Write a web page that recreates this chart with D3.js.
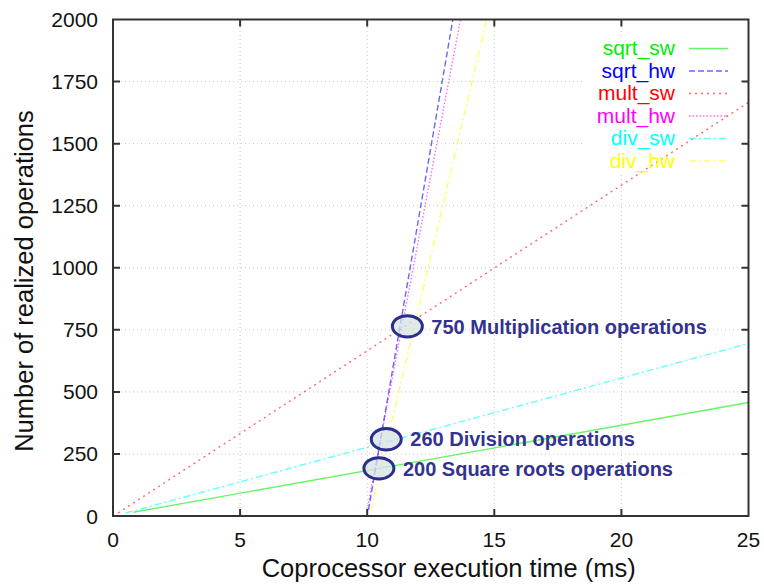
<!DOCTYPE html>
<html>
<head>
<meta charset="utf-8">
<script src="https://cdn.jsdelivr.net/npm/d3@7"></script>
<style>
  body { margin: 0; background: #fff; }
  text { font-family: "Liberation Sans", Arial, sans-serif; }
</style>
</head>
<body>
<div class="container"></div>
<script>
// series (time in ms, realized operations)
const seriesNames = ["sqrt_sw", "sqrt_hw", "mult_sw", "mult_hw", "div_sw", "div_hw"];
const seriesColors = ["#00ee00", "#0000ff", "#ff0000", "#ff00ff", "#00ffff", "#ffff00"];

const sqrtSwTime = [0.8, 25];
const sqrtSwOps = [15, 457];
const sqrtHwTime = [10.05, 13.37];
const sqrtHwOps = [25, 2000];
const multSwTime = [0.2, 25];
const multSwOps = [12, 1666];
const multHwTime = [10.0, 13.67];
const multHwOps = [25, 2000];
const divSwTime = [0.5, 25];
const divSwOps = [12, 695];
const divHwTime = [10.15, 14.7];
const divHwOps = [25, 2000];

const xTicks = [0, 5, 10, 15, 20, 25];
const yTicks = [0, 250, 500, 750, 1000, 1250, 1500, 1750, 2000];

// annotated crossing points
const noteTime = [11.58, 10.75, 10.46];
const noteOps = [764, 309, 192];
const noteLabels = ["750 Multiplication operations", "260 Division operations", "200 Square roots operations"];

const dashes = ["none", "6,3", "2,4", "1.5,2", "7,3,2,3", "7,3,2,3"];

const width = 764;
const height = 586;
const margin = { top: 19.5, right: 15.5, bottom: 70, left: 113 };

const svg = d3.select(".container")
  .append("svg")
  .attr("width", width)
  .attr("height", height);

const x = d3.scaleLinear().domain([0, 25]).range([margin.left, width - margin.right]);
const y = d3.scaleLinear().domain([0, 2000]).range([height - margin.bottom, margin.top]);

const plot = svg.append("g");

// grid
plot.selectAll(".gx")
  .data(xTicks.slice(1, -1))
  .enter()
  .append("line")
  .attr("x1", (d) => x(d)).attr("x2", (d) => x(d))
  .attr("y1", y(0)).attr("y2", y(2000))
  .attr("stroke", "#c8c8c8").attr("stroke-dasharray", "1,3");

plot.selectAll(".gy")
  .data(yTicks.slice(1, -1))
  .enter()
  .append("line")
  .attr("x1", x(0)).attr("x2", x(25))
  .attr("y1", (d) => y(d)).attr("y2", (d) => y(d))
  .attr("stroke", "#c8c8c8").attr("stroke-dasharray", "1,3");

// key background hides grid
plot.append("rect")
  .attr("x", 582).attr("y", 36)
  .attr("width", 160).attr("height", 136)
  .attr("fill", "#fff");

const series = [
  [sqrtSwTime, sqrtSwOps],
  [sqrtHwTime, sqrtHwOps],
  [multSwTime, multSwOps],
  [multHwTime, multHwOps],
  [divSwTime, divSwOps],
  [divHwTime, divHwOps],
].map(([t, v], i) => ({
  name: seriesNames[i],
  color: seriesColors[i],
  dash: dashes[i],
  points: t.map((d, j) => [d, v[j]]),
}));

const line = d3.line().x((d) => x(d[0])).y((d) => y(d[1]));

svg.append("clipPath").attr("id", "clip")
  .append("rect")
  .attr("x", x(0)).attr("y", y(2000))
  .attr("width", x(25) - x(0)).attr("height", y(0) - y(2000));

plot.append("g")
  .attr("clip-path", "url(#clip)")
  .selectAll("path")
  .data(series)
  .enter()
  .append("path")
  .attr("d", (d) => line(d.points))
  .attr("fill", "none")
  .attr("stroke", (d) => d.color)
  .attr("stroke-opacity", 0.6)
  .attr("stroke-width", 1.4)
  .attr("stroke-dasharray", (d) => d.dash);

// key
const key = svg.append("g");
const keyRow = key.selectAll("g")
  .data(series)
  .enter()
  .append("g")
  .attr("transform", (d, i) => `translate(0, ${48.5 + i * 22.5})`);

keyRow.append("text")
  .attr("x", 675)
  .attr("dy", "0.33em")
  .style("text-anchor", "end")
  .style("font-size", "21px")
  .attr("fill", (d) => d.color)
  .text((d) => d.name);

keyRow.append("line")
  .attr("x1", 689).attr("x2", 728)
  .attr("stroke", (d) => d.color)
  .attr("stroke-opacity", 0.6)
  .attr("stroke-width", 1.4)
  .attr("stroke-dasharray", (d) => d.dash);

// frame and inward ticks
const frame = svg.append("g").attr("stroke", "#333");
frame.append("rect")
  .attr("x", x(0)).attr("y", y(2000))
  .attr("width", x(25) - x(0)).attr("height", y(0) - y(2000))
  .attr("fill", "none").attr("stroke-width", 2);

frame.selectAll(".tx")
  .data(xTicks.slice(1, -1))
  .enter()
  .append("path")
  .attr("d", (d) => `M${x(d)},${y(0)}v-7M${x(d)},${y(2000)}v7`)
  .attr("stroke-width", 2);

frame.selectAll(".ty")
  .data(yTicks.slice(1, -1))
  .enter()
  .append("path")
  .attr("d", (d) => `M${x(0)},${y(d)}h7M${x(25)},${y(d)}h-7`)
  .attr("stroke-width", 2);

// tick labels
svg.append("g")
  .selectAll("text")
  .data(xTicks)
  .enter()
  .append("text")
  .attr("x", (d) => x(d))
  .attr("y", 547)
  .style("text-anchor", "middle")
  .style("font-size", "21px")
  .attr("fill", "#111")
  .text((d) => d);

svg.append("g")
  .selectAll("text")
  .data(yTicks)
  .enter()
  .append("text")
  .attr("x", 98)
  .attr("y", (d) => y(d))
  .attr("dy", "0.36em")
  .style("text-anchor", "end")
  .style("font-size", "21px")
  .attr("fill", "#111")
  .text((d) => d);

// axis titles
svg.append("text")
  .attr("x", (x(0) + x(25)) / 2 + 18)
  .attr("y", 577)
  .style("text-anchor", "middle")
  .style("font-size", "25.5px")
  .attr("fill", "#111")
  .text("Coprocessor execution time (ms)");

svg.append("text")
  .attr("transform", "translate(33, 281) rotate(-90)")
  .style("text-anchor", "middle")
  .style("font-size", "25.5px")
  .attr("fill", "#111")
  .text("Number of realized operations");

// annotations
const notes = noteLabels.map((label, i) => ({ label, t: noteTime[i], v: noteOps[i] }));
const note = svg.append("g")
  .selectAll("g")
  .data(notes)
  .enter()
  .append("g")
  .attr("transform", (d) => `translate(${x(d.t)}, ${y(d.v)})`);

note.append("ellipse")
  .attr("rx", 15).attr("ry", 10.7)
  .attr("fill", "#d5e2e4").attr("fill-opacity", 0.75)
  .attr("stroke", "#2b2f8c").attr("stroke-width", 3);

note.append("text")
  .attr("x", 24)
  .attr("dy", "0.36em")
  .style("font-size", "20px")
  .style("font-weight", "bold")
  .attr("fill", "#33338f")
  .text((d) => d.label);
</script>
</body>
</html>
